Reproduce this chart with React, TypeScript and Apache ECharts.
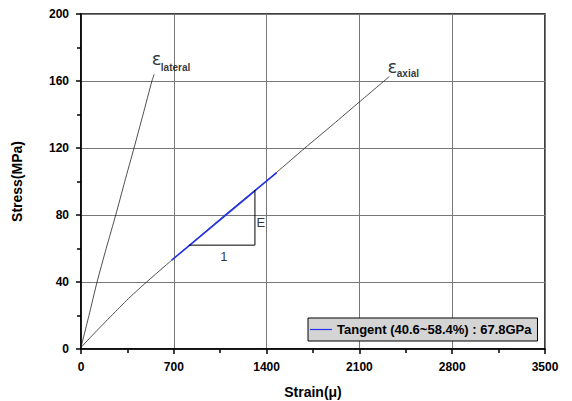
import React, { useEffect, useRef } from "react";
import * as echarts from "echarts";

const xTicks = [0, 700, 1400, 2100, 2800, 3500];
const yTicks = [0, 40, 80, 120, 160, 200];

const lateralStrain = [0, 60, 121, 190, 262, 330, 400, 468, 535, 552];
const lateralStress = [1, 20, 40, 60, 80, 100, 120, 140, 160, 164];

const axialStrain = [0, 120, 250, 370, 495, 684, 900, 1100, 1300, 1476, 1689, 1900, 2100, 2325];
const axialStress = [1, 11, 21.5, 31, 40, 53, 67.5, 81, 94, 105.5, 120, 134, 147.5, 162.6];

const tangentStrain = [684, 1476];
const tangentStress = [53, 105.3];

const triangleStrain = [815, 1312, 1312];
const triangleStress = [62, 62, 95];

const tangentName = "Tangent (40.6~58.4%) : 67.8GPa";

const annotations = [
  { text: "ε", x: 571, y: 173.3, size: 18, bold: false, greek: true },
  { text: "lateral", x: 713, y: 167.8, size: 10, bold: true, greek: false },
  { text: "ε", x: 2349, y: 168.4, size: 18, bold: false, greek: true },
  { text: "axial", x: 2466, y: 164.2, size: 10, bold: true, greek: false },
  { text: "1", x: 1078, y: 55.5, size: 13, bold: false, greek: false },
  { text: "E", x: 1357, y: 75.5, size: 13, bold: false, greek: false },
];

const zip = (xs: number[], ys: number[]) => xs.map((x, i) => [x, ys[i]]);

export default function App() {
  const ref = useRef<HTMLDivElement>(null);
  useEffect(() => {
    if (!ref.current) return;
    const chart = echarts.init(ref.current, null, { renderer: "svg" });
    const font = "Liberation Sans, Arial, sans-serif";
    chart.setOption({
      animation: false,
      backgroundColor: "#fff",
      textStyle: { fontFamily: font },
      grid: {
        left: 81,
        top: 14,
        right: 27,
        bottom: 52,
        containLabel: false,
        outerBoundsMode: "none",
        show: true,
        borderColor: "#000",
        borderWidth: 1.5,
        backgroundColor: "transparent",
      },
      legend: {
        data: [tangentName],
        left: 308,
        top: 318,
        orient: "horizontal",
        backgroundColor: "#d4d4d4",
        borderColor: "#000",
        borderWidth: 1,
        borderRadius: 0,
        padding: [5, 6, 5, 2],
        itemWidth: 22,
        itemHeight: 1.2,
        itemGap: 4,
        icon: "rect",
        textStyle: { fontFamily: font, fontWeight: "bold", fontSize: 13, color: "#000" },
      },
      xAxis: {
        type: "value",
        min: xTicks[0],
        max: xTicks[xTicks.length - 1],
        interval: 700,
        name: "Strain(μ)",
        nameLocation: "middle",
        nameGap: 36,
        nameTextStyle: { fontFamily: font, fontWeight: "bold", fontSize: 14, color: "#000" },
        axisLine: { lineStyle: { color: "#000", width: 1.5 } },
        axisTick: { inside: false, length: 5, lineStyle: { color: "#000", width: 1.5 } },
        minorTick: { show: true, splitNumber: 2, length: 4, lineStyle: { color: "#000", width: 1.5 } },
        axisLabel: {
          color: "#000",
          fontWeight: "bold",
          fontSize: 12,
          margin: 12,
          fontFamily: font,
          formatter: (v: number) => String(v),
        },
        splitLine: { show: true, lineStyle: { color: "#777", width: 1 } },
      },
      yAxis: {
        type: "value",
        min: yTicks[0],
        max: yTicks[yTicks.length - 1],
        interval: 40,
        name: "Stress(MPa)",
        nameLocation: "middle",
        nameGap: 57,
        nameTextStyle: { fontFamily: font, fontWeight: "bold", fontSize: 14, color: "#000" },
        axisLine: { lineStyle: { color: "#000", width: 1.5 } },
        axisTick: { inside: false, length: 5, lineStyle: { color: "#000", width: 1.5 } },
        minorTick: { show: true, splitNumber: 2, length: 4, lineStyle: { color: "#000", width: 1.5 } },
        axisLabel: {
          color: "#000",
          fontWeight: "bold",
          fontSize: 12,
          margin: 12,
          fontFamily: font,
          formatter: (v: number) => String(v),
        },
        splitLine: { show: true, lineStyle: { color: "#777", width: 1 } },
      },
      series: [
        {
          name: "lateral",
          type: "line",
          data: zip(lateralStrain, lateralStress),
          showSymbol: false,
          smooth: 0.2,
          lineStyle: { color: "#222", width: 0.8 },
          silent: true,
        },
        {
          name: "axial",
          type: "line",
          data: zip(axialStrain, axialStress),
          showSymbol: false,
          smooth: 0.2,
          lineStyle: { color: "#222", width: 0.8 },
          silent: true,
        },
        {
          name: tangentName,
          type: "line",
          data: zip(tangentStrain, tangentStress),
          showSymbol: false,
          itemStyle: { color: "#2233ee" },
          lineStyle: { color: "#2233ee", width: 1.6 },
          silent: true,
        },
        {
          name: "triangle",
          type: "line",
          data: zip(triangleStrain, triangleStress),
          showSymbol: false,
          lineStyle: { color: "#000", width: 1 },
          silent: true,
        },
        {
          name: "annotations",
          type: "scatter",
          symbolSize: 0,
          silent: true,
          itemStyle: { color: "#000" },
          data: annotations.map((a) => ({
            value: [a.x, a.y],
            label: {
              show: true,
              position: [0, 0],
              align: "center",
              verticalAlign: "middle",
              formatter: a.text,
              fontSize: a.size,
              fontWeight: a.bold ? "bold" : "normal",
              fontFamily: a.greek ? "DejaVu Sans, sans-serif" : font,
              color: "#000",
              textBorderWidth: 0,
            },
          })),
        },
      ],
    });
    return () => chart.dispose();
  }, []);
  return (
    <div
      ref={ref}
      style={{ position: "absolute", left: 0, top: 0, width: 572, height: 401 }}
    />
  );
}
